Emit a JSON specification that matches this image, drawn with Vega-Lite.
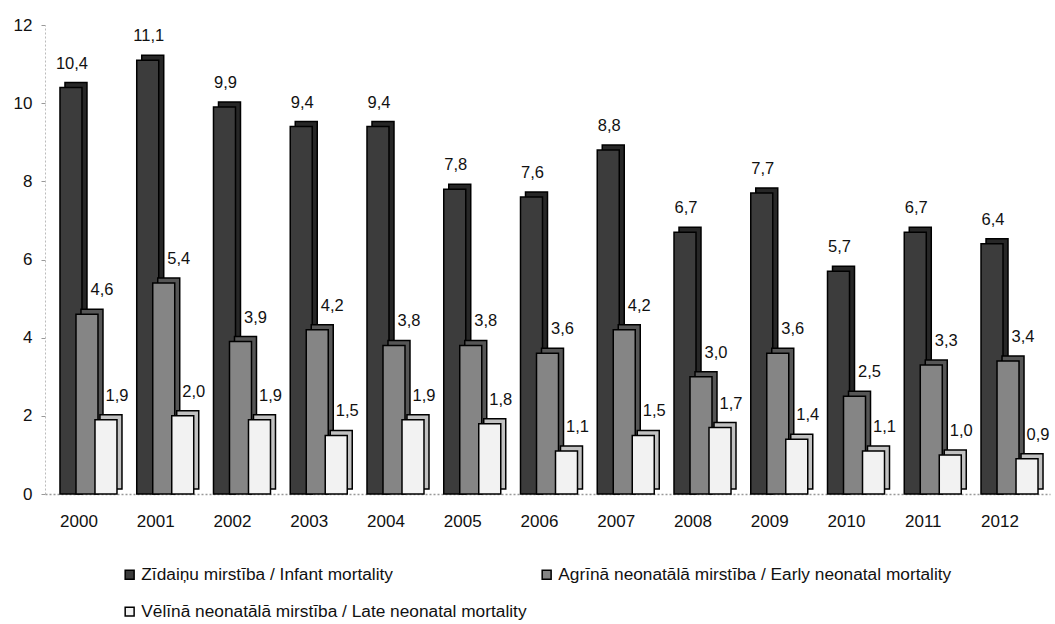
{
  "$schema": "https://vega.github.io/schema/vega-lite/v6.json",
  "autosize": "none",
  "width": 1005,
  "height": 469,
  "padding": {"left": 45, "top": 25, "right": 5, "bottom": 130},
  "background": "white",
  "config": {
    "locale": {
      "number": {"decimal": ",", "thousands": " ", "grouping": [3], "currency": ["", ""]}
    },
    "font": "Liberation Sans, Arial",
    "view": {"stroke": null}
  },
  "data": {
    "values": [
      {"year": "2000", "series": "Zīdaiņu mirstība / Infant mortality", "value": 10.4},
      {"year": "2000", "series": "Agrīnā neonatālā mirstība / Early neonatal mortality", "value": 4.6},
      {"year": "2000", "series": "Vēlīnā neonatālā mirstība / Late neonatal mortality", "value": 1.9},
      {"year": "2001", "series": "Zīdaiņu mirstība / Infant mortality", "value": 11.1},
      {"year": "2001", "series": "Agrīnā neonatālā mirstība / Early neonatal mortality", "value": 5.4},
      {"year": "2001", "series": "Vēlīnā neonatālā mirstība / Late neonatal mortality", "value": 2.0},
      {"year": "2002", "series": "Zīdaiņu mirstība / Infant mortality", "value": 9.9},
      {"year": "2002", "series": "Agrīnā neonatālā mirstība / Early neonatal mortality", "value": 3.9},
      {"year": "2002", "series": "Vēlīnā neonatālā mirstība / Late neonatal mortality", "value": 1.9},
      {"year": "2003", "series": "Zīdaiņu mirstība / Infant mortality", "value": 9.4},
      {"year": "2003", "series": "Agrīnā neonatālā mirstība / Early neonatal mortality", "value": 4.2},
      {"year": "2003", "series": "Vēlīnā neonatālā mirstība / Late neonatal mortality", "value": 1.5},
      {"year": "2004", "series": "Zīdaiņu mirstība / Infant mortality", "value": 9.4},
      {"year": "2004", "series": "Agrīnā neonatālā mirstība / Early neonatal mortality", "value": 3.8},
      {"year": "2004", "series": "Vēlīnā neonatālā mirstība / Late neonatal mortality", "value": 1.9},
      {"year": "2005", "series": "Zīdaiņu mirstība / Infant mortality", "value": 7.8},
      {"year": "2005", "series": "Agrīnā neonatālā mirstība / Early neonatal mortality", "value": 3.8},
      {"year": "2005", "series": "Vēlīnā neonatālā mirstība / Late neonatal mortality", "value": 1.8},
      {"year": "2006", "series": "Zīdaiņu mirstība / Infant mortality", "value": 7.6},
      {"year": "2006", "series": "Agrīnā neonatālā mirstība / Early neonatal mortality", "value": 3.6},
      {"year": "2006", "series": "Vēlīnā neonatālā mirstība / Late neonatal mortality", "value": 1.1},
      {"year": "2007", "series": "Zīdaiņu mirstība / Infant mortality", "value": 8.8},
      {"year": "2007", "series": "Agrīnā neonatālā mirstība / Early neonatal mortality", "value": 4.2},
      {"year": "2007", "series": "Vēlīnā neonatālā mirstība / Late neonatal mortality", "value": 1.5},
      {"year": "2008", "series": "Zīdaiņu mirstība / Infant mortality", "value": 6.7},
      {"year": "2008", "series": "Agrīnā neonatālā mirstība / Early neonatal mortality", "value": 3.0},
      {"year": "2008", "series": "Vēlīnā neonatālā mirstība / Late neonatal mortality", "value": 1.7},
      {"year": "2009", "series": "Zīdaiņu mirstība / Infant mortality", "value": 7.7},
      {"year": "2009", "series": "Agrīnā neonatālā mirstība / Early neonatal mortality", "value": 3.6},
      {"year": "2009", "series": "Vēlīnā neonatālā mirstība / Late neonatal mortality", "value": 1.4},
      {"year": "2010", "series": "Zīdaiņu mirstība / Infant mortality", "value": 5.7},
      {"year": "2010", "series": "Agrīnā neonatālā mirstība / Early neonatal mortality", "value": 2.5},
      {"year": "2010", "series": "Vēlīnā neonatālā mirstība / Late neonatal mortality", "value": 1.1},
      {"year": "2011", "series": "Zīdaiņu mirstība / Infant mortality", "value": 6.7},
      {"year": "2011", "series": "Agrīnā neonatālā mirstība / Early neonatal mortality", "value": 3.3},
      {"year": "2011", "series": "Vēlīnā neonatālā mirstība / Late neonatal mortality", "value": 1.0},
      {"year": "2012", "series": "Zīdaiņu mirstība / Infant mortality", "value": 6.4},
      {"year": "2012", "series": "Agrīnā neonatālā mirstība / Early neonatal mortality", "value": 3.4},
      {"year": "2012", "series": "Vēlīnā neonatālā mirstība / Late neonatal mortality", "value": 0.9}
    ]
  },
  "encoding": {
    "x": {
      "field": "year",
      "type": "nominal",
      "sort": null,
      "scale": {"paddingInner": 0.22, "paddingOuter": 0.157},
      "axis": {
        "title": null,
        "labelAngle": 0,
        "labelFontSize": 17,
        "labelColor": "#111",
        "labelPadding": 19,
        "labelOffset": -8,
        "ticks": false,
        "domainColor": "#999",
        "domainDash": [2, 2],
        "domainWidth": 1.5
      }
    },
    "y": {
      "field": "value",
      "type": "quantitative",
      "scale": {"domain": [0, 12], "nice": false},
      "axis": {
        "title": null,
        "values": [0, 2, 4, 6, 8, 10, 12],
        "format": "d",
        "grid": false,
        "labelFontSize": 17,
        "labelColor": "#111",
        "labelPadding": 9,
        "tickSize": 4,
        "tickColor": "#999",
        "domainColor": "#bbb",
        "domainDash": [2, 2]
      }
    },
    "color": {
      "field": "series",
      "type": "nominal",
      "sort": null,
      "scale": {
        "domain": [
          "Zīdaiņu mirstība / Infant mortality",
          "Agrīnā neonatālā mirstība / Early neonatal mortality",
          "Vēlīnā neonatālā mirstība / Late neonatal mortality"
        ],
        "range": ["#3c3c3c", "#858585", "#f2f2f2"]
      },
      "legend": {
        "title": null,
        "orient": "none",
        "direction": "horizontal",
        "columns": 2,
        "legendX": 76,
        "legendY": 541,
        "padding": 0,
        "columnPadding": 11,
        "rowPadding": 19,
        "symbolType": "square",
        "symbolSize": 80,
        "symbolStrokeColor": "#000",
        "symbolStrokeWidth": 1.5,
        "symbolOpacity": 1,
        "labelFontSize": 17.3,
        "labelColor": "#111",
        "labelOffset": 3,
        "labelLimit": 600
      }
    }
  },
  "layer": [
    {
      "transform": [{"filter": "datum.series === 'Zīdaiņu mirstība / Infant mortality'"}],
      "layer": [
        {"mark": {"type": "bar", "width": 22, "xOffset": -11, "yOffset": -5, "stroke": "#000", "strokeWidth": 1.5}},
        {"mark": {"type": "bar", "width": 22, "xOffset": -11, "yOffset": -5, "fill": "#000", "fillOpacity": 0.35, "strokeWidth": 0}, "encoding": {"color": {"value": "#000"}}},
        {"mark": {"type": "bar", "width": 22, "xOffset": -16, "stroke": "#000", "strokeWidth": 1.5}},
        {
          "mark": {"type": "text", "baseline": "alphabetic", "dy": -19, "dx": -15, "fontSize": 16.5, "color": "#111"},
          "encoding": {"text": {"field": "value", "type": "quantitative", "format": ".1f"}, "color": {"value": "#111"}}
        }
      ]
    },
    {
      "transform": [{"filter": "datum.series === 'Agrīnā neonatālā mirstība / Early neonatal mortality'"}],
      "layer": [
        {"mark": {"type": "bar", "width": 22, "xOffset": 5, "yOffset": -5, "stroke": "#000", "strokeWidth": 1.5}},
        {"mark": {"type": "bar", "width": 22, "xOffset": 5, "yOffset": -5, "fill": "#000", "fillOpacity": 0.35, "strokeWidth": 0}, "encoding": {"color": {"value": "#000"}}},
        {"mark": {"type": "bar", "width": 22, "xOffset": 0, "stroke": "#000", "strokeWidth": 1.5}},
        {
          "mark": {"type": "text", "baseline": "alphabetic", "dy": -19, "dx": 15, "fontSize": 16.5, "color": "#111"},
          "encoding": {"text": {"field": "value", "type": "quantitative", "format": ".1f"}, "color": {"value": "#111"}}
        }
      ]
    },
    {
      "transform": [{"filter": "datum.series === 'Vēlīnā neonatālā mirstība / Late neonatal mortality'"}],
      "layer": [
        {"mark": {"type": "bar", "width": 22, "xOffset": 24, "yOffset": -5, "stroke": "#000", "strokeWidth": 1.5}},
        {"mark": {"type": "bar", "width": 22, "xOffset": 24, "yOffset": -5, "fill": "#000", "fillOpacity": 0.2, "strokeWidth": 0}, "encoding": {"color": {"value": "#000"}}},
        {"mark": {"type": "bar", "width": 22, "xOffset": 19, "stroke": "#000", "strokeWidth": 1.5}},
        {
          "mark": {"type": "text", "baseline": "alphabetic", "dy": -19, "dx": 30, "fontSize": 16.5, "color": "#111"},
          "encoding": {"text": {"field": "value", "type": "quantitative", "format": ".1f"}, "color": {"value": "#111"}}
        }
      ]
    }
  ]
}
